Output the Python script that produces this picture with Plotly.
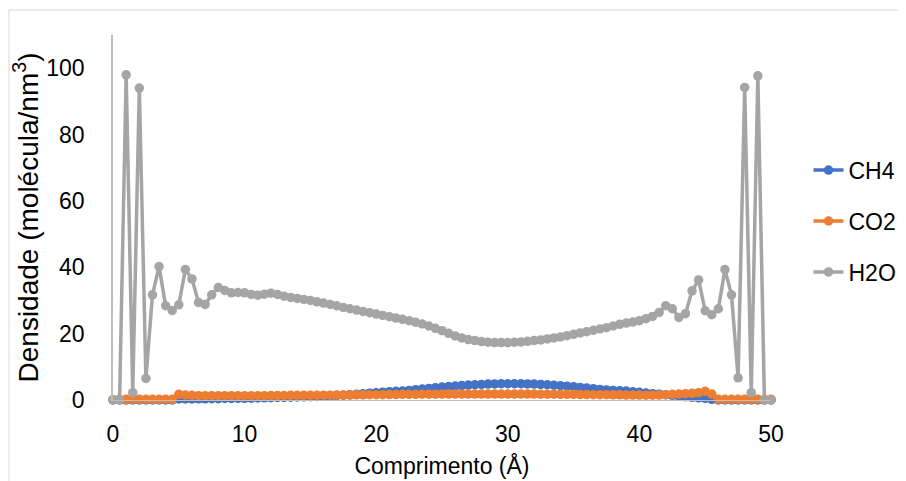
import plotly.graph_objects as go

x_vals = [i * 0.5 for i in range(101)]

h2o = [0, 0, 98, 2.2, 94, 6.5, 31.7, 40.2, 28.4, 27.0,
       28.7, 39.3, 36.5, 29.4, 28.8, 31.7, 33.9, 33.0, 32.3, 32.4,
       32.3, 31.8, 31.6, 31.9, 32.2, 31.8, 31.3, 30.9, 30.6, 30.3,
       30.0, 29.6, 29.2, 28.8, 28.4, 27.9, 27.5, 27.1, 26.7, 26.3,
       25.9, 25.5, 25.1, 24.7, 24.3, 23.9, 23.4, 22.9, 22.3, 21.6,
       20.9, 20.1, 19.3, 18.7, 18.2, 17.9, 17.6, 17.4, 17.3, 17.3,
       17.3, 17.4, 17.5, 17.7, 17.9, 18.1, 18.4, 18.7, 19.0, 19.4,
       19.8, 20.2, 20.6, 21.0, 21.4, 21.8, 22.3, 22.8, 23.2, 23.5,
       23.9, 24.5, 25.2, 26.4, 28.4, 27.5, 24.9, 26.0, 32.9, 36.2,
       26.9, 25.7, 27.5, 39.3, 31.7, 6.7, 94.2, 2.2, 97.7, 0,
       0]

ch4 = [0, 0, 0, 0, 0, 0, 0, 0, 0, 0,
       0.3, 0.3, 0.3, 0.35, 0.35, 0.4, 0.4, 0.45, 0.45, 0.5,
       0.5, 0.55, 0.6, 0.65, 0.7, 0.75, 0.8, 0.85, 0.9, 0.95,
       1.0, 1.05, 1.1, 1.2, 1.3, 1.45, 1.6, 1.75, 1.9, 2.05,
       2.2, 2.35, 2.5, 2.6, 2.7, 2.9, 3.1, 3.3, 3.5, 3.7,
       3.9, 4.05, 4.2, 4.35, 4.5, 4.6, 4.7, 4.8, 4.85, 4.9,
       4.9, 4.9, 4.9, 4.85, 4.8, 4.7, 4.6, 4.45, 4.3, 4.15,
       4.0, 3.8, 3.6, 3.4, 3.2, 3.05, 2.9, 2.8, 2.7, 2.5,
       2.3, 2.1, 1.9, 1.75, 1.6, 1.4, 1.2, 1.0, 0.8, 0.65,
       0.5, 0.2, 0, 0, 0, 0, 0, 0, 0, 0,
       0]

co2 = [0.1, 0.2, 0.2, 0.2, 0.2, 0.2, 0.2, 0.2, 0.2, 0.2,
       1.7, 1.5, 1.4, 1.3, 1.3, 1.3, 1.3, 1.3, 1.3, 1.3,
       1.3, 1.3, 1.3, 1.3, 1.35, 1.35, 1.35, 1.4, 1.4, 1.4,
       1.4, 1.4, 1.45, 1.45, 1.5, 1.5, 1.5, 1.55, 1.55, 1.6,
       1.6, 1.6, 1.65, 1.65, 1.7, 1.7, 1.7, 1.75, 1.75, 1.75,
       1.8, 1.8, 1.8, 1.8, 1.8, 1.8, 1.8, 1.8, 1.8, 1.8,
       1.8, 1.8, 1.8, 1.8, 1.8, 1.75, 1.75, 1.75, 1.7, 1.7,
       1.7, 1.65, 1.65, 1.6, 1.6, 1.6, 1.55, 1.55, 1.5, 1.5,
       1.5, 1.45, 1.45, 1.5, 1.6, 1.7, 1.8, 1.9, 2.0, 2.2,
       2.6, 1.8, 0.2, 0.2, 0.2, 0.2, 0.2, 0.2, 0.2, 0.2,
       0.2]

series = [("CH4", ch4, "#4472C4"), ("CO2", co2, "#ED7D31"), ("H2O", h2o, "#A5A5A5")]

x_ticks = [0, 10, 20, 30, 40, 50]
y_ticks = [0, 20, 40, 60, 80, 100]

FONT = "Liberation Sans, Arial, sans-serif"
# page body has an 8px margin, so figure coordinates are page - 8
W, H = 906, 481
L, R, T, B = 105, 143, 27, 89
PW = W - L - R
PH = H - T - B

fig = go.Figure()
for name, vals, color in series:
    fig.add_trace(go.Scatter(
        x=x_vals, y=vals, name=name, mode="lines+markers",
        legendgroup=name,
        line=dict(color=color, width=3.5),
        marker=dict(color=color, size=9.5),
        cliponaxis=False,
    ))

fig.update_layout(
    width=W, height=H,
    margin=dict(l=L, r=R, t=T, b=B, autoexpand=False),
    paper_bgcolor="white", plot_bgcolor="white",
    font=dict(family=FONT, size=22, color="black"),
    showlegend=True,
    legend=dict(x=1.057, xanchor="left", y=0.49, yanchor="middle",
                font=dict(size=23, family=FONT), tracegroupgap=18,
                bgcolor="rgba(0,0,0,0)"),
    xaxis=dict(range=[0, 50], tickvals=x_ticks, showgrid=False, zeroline=False,
               showline=True, linecolor="#BFBFBF", linewidth=1, ticks="",
               ticklabelstandoff=13, automargin=False,
               tickfont=dict(size=23),
               title=dict(text="Comprimento (Å)", standoff=12, font=dict(size=23))),
    yaxis=dict(range=[0, 110], tickvals=y_ticks, showgrid=False, zeroline=False,
               showline=True, linecolor="#BFBFBF", linewidth=1.5, ticks="",
               ticklabelstandoff=22, automargin=False,
               tickfont=dict(size=23),
               title=dict(text="Densidade (molécula/nm<sup>3</sup>)", standoff=0,
                          font=dict(size=28))),
    shapes=[dict(type="rect", xref="paper", yref="paper",
                 x0=(1 - L) / PW, x1=2, y0=-1, y1=(H - B - 2) / PH,
                 line=dict(color="#D9D9D9", width=1), fillcolor="rgba(0,0,0,0)",
                 layer="below")],
)

fig.write_html("out.html")
